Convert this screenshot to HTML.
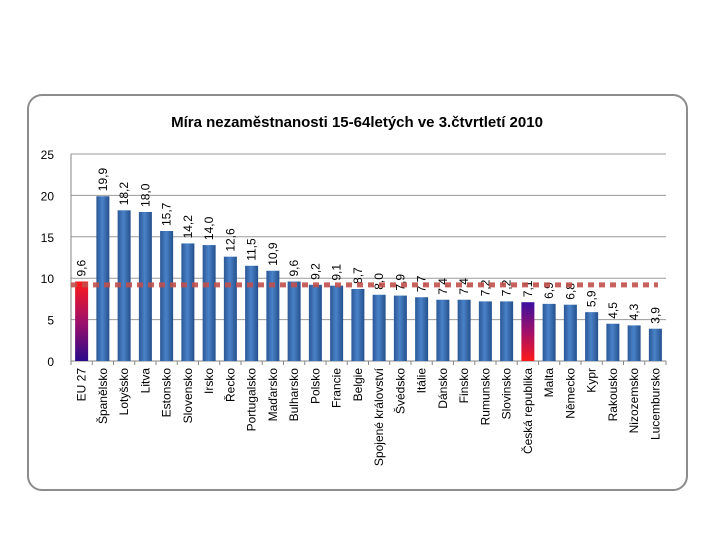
<!DOCTYPE html>
<html><head><meta charset="utf-8"><style>
body{margin:0;background:#fff;width:720px;height:540px;overflow:hidden}
svg{display:block;font-family:"Liberation Sans",sans-serif}
</style></head><body>
<svg id="chart" width="720" height="540">
<defs>
<linearGradient id="blueG" x1="0" x2="1" y1="0" y2="0">
<stop offset="0" stop-color="#2a5796"/><stop offset="0.45" stop-color="#4a82c8"/><stop offset="1" stop-color="#24508c"/>
</linearGradient>
<linearGradient id="euG" x1="0" x2="0" y1="0" y2="1">
<stop offset="0" stop-color="#ff1a1a"/><stop offset="0.5" stop-color="#a0106a"/><stop offset="1" stop-color="#2a0a8a"/>
</linearGradient>
<linearGradient id="czG" x1="0" x2="0" y1="0" y2="1">
<stop offset="0" stop-color="#3a10a0"/><stop offset="0.5" stop-color="#a0106a"/><stop offset="1" stop-color="#ff1a1a"/>
</linearGradient>
</defs>
<rect x="28" y="95" width="659" height="395" rx="14" fill="#fff" stroke="#8c8c8c" stroke-width="2"/>
<text x="357" y="127" text-anchor="middle" font-size="15" font-weight="bold" fill="#000">Míra nezaměstnanosti 15-64letých ve 3.čtvrtletí 2010</text>
<g id="grid"></g><g id="bars"></g><g id="labels"></g>
</svg>
<script>
const categories=["EU 27","Španělsko","Lotyšsko","Litva","Estonsko","Slovensko","Irsko","Řecko","Portugalsko","Maďarsko","Bulharsko","Polsko","Francie","Belgie","Spojené království","Švédsko","Itálie","Dánsko","Finsko","Rumunsko","Slovinsko","Česká republika","Malta","Německo","Kypr","Rakousko","Nizozemsko","Lucembursko"];
const values=[9.6,19.9,18.2,18.0,15.7,14.2,14.0,12.6,11.5,10.9,9.6,9.2,9.1,8.7,8.0,7.9,7.7,7.4,7.4,7.2,7.2,7.1,6.9,6.8,5.9,4.5,4.3,3.9];
const yTicks=[0,5,10,15,20,25];
const euAverage=[9.2];
const NS="http://www.w3.org/2000/svg";
const x0=71,step=21.25,y0=361,yTop=154,yMax=25;
const yS=v=>y0-(y0-yTop)*v/yMax;
const xS=i=>x0+step*i+step/2;
const xEnd=x0+step*categories.length;
function mk(t,a,p){const e=document.createElementNS(NS,t);for(const k in a)e.setAttribute(k,a[k]);p.appendChild(e);return e;}
const g=document.getElementById('grid'),b=document.getElementById('bars'),l=document.getElementById('labels');
yTicks.forEach(t=>{
 const ln=mk('line',{x1:x0,x2:xEnd,y1:yS(t),y2:yS(t),stroke:t===0?'#868686':'#9a9a9a','stroke-width':1},g);
 
 
 const tx=mk('text',{x:54,y:yS(t)+5,'text-anchor':'end','font-size':12,fill:'#000'},g);
 tx.textContent=t;
 
 
});
const ax=mk('line',{x1:x0,x2:x0,y1:yTop,y2:y0+4,stroke:'#868686'},g);


categories.forEach((c,i)=>{
 const cx=xS(i),v=values[i],w=13;
 const tk=mk('line',{x1:x0+step*(i+1),x2:x0+step*(i+1),y1:y0,y2:y0+4,stroke:'#868686'},g);
 
 
 const fill=i===0?'url(#euG)':(c==='Česká republika'?'url(#czG)':'url(#blueG)');
 const r=mk('rect',{x:cx-w/2,y:yS(v),width:w,height:y0-yS(v),fill:fill},b);
 
 
 const vt=mk('text',{transform:`translate(${cx+4},${yS(v)-5}) rotate(-90)`,'font-size':12,fill:'#000'},l);
 vt.textContent=v.toFixed(1).replace('.',',');
 
 
 const ct=mk('text',{transform:`translate(${cx+4},${y0+7}) rotate(-90)`,'font-size':12,'text-anchor':'end',fill:'#000'},l);
 ct.textContent=c;
 
 
});
const d=mk('line',{x1:x0,x2:xEnd-8,y1:yS(euAverage[0]),y2:yS(euAverage[0]),stroke:'#c0504d','stroke-width':5,'stroke-dasharray':'6 5',opacity:0.9},l);


</script>
</body></html>
